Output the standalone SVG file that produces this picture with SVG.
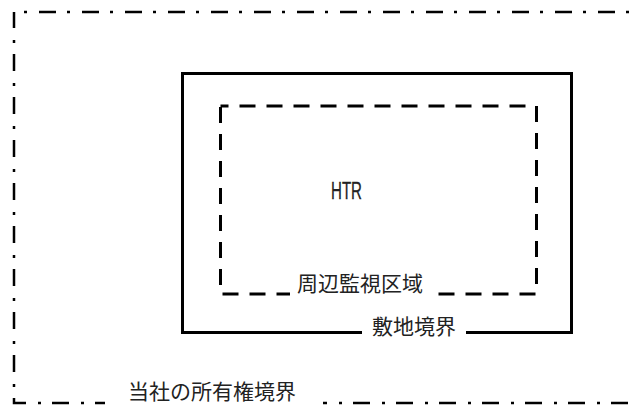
<svg xmlns="http://www.w3.org/2000/svg" width="630" height="405" viewBox="0 0 630 405">
<style>
.lbl{font-family:"Noto Sans CJK JP","Noto Sans",sans-serif;font-size:21px;fill:#222;text-anchor:middle}
.htr{font-family:"Liberation Sans","DejaVu Sans",sans-serif;font-size:23px;fill:#222;stroke:#222;stroke-width:0.3}
.bg{fill:#fff}
</style>
<rect width="630" height="405" fill="#fff"/>
<g id="ownership">
<rect x="14" y="12" width="640" height="391" fill="none" stroke="#000" stroke-width="2.5" stroke-dasharray="17 11 3 12" stroke-dashoffset="-25"/>
<rect class="bg" x="105" y="380" width="218" height="25"/>
<text class="lbl" x="212" y="399">当社の所有権境界</text>
</g>
<g id="site">
<rect x="182.5" y="73.5" width="389" height="259" fill="none" stroke="#000" stroke-width="3"/>
<rect class="bg" x="362" y="315" width="104" height="25"/>
<text class="lbl" x="414" y="334">敷地境界</text>
</g>
<g id="monitor">
<rect x="220.5" y="106" width="316" height="188" fill="none" stroke="#000" stroke-width="3" stroke-dasharray="16 11" stroke-dashoffset="8"/>
<rect class="bg" x="290" y="272" width="142" height="27"/>
<text class="lbl" x="360" y="291">周辺監視区域</text>
</g>
<g id="htr">
<text class="htr" x="331" y="199" textLength="31" lengthAdjust="spacingAndGlyphs">HTR</text>
</g>
<g id="connectors"/>
</svg>
